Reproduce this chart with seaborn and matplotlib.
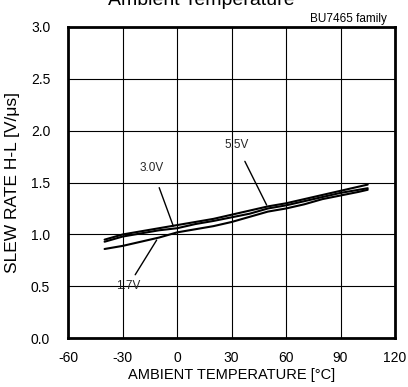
import matplotlib
matplotlib.use("Agg")
import matplotlib.pyplot as plt
import seaborn as sns
import pandas as pd

sns.set_theme(style="white")
plt.rcParams['font.family'] = ['Liberation Sans', 'DejaVu Sans']

temps = [-40, -30, -20, -10, 0, 10, 20, 30, 40, 50, 60, 70, 80, 90, 100, 105]
v55 = [0.95, 1.00, 1.03, 1.06, 1.09, 1.12, 1.15, 1.19, 1.23, 1.27, 1.30, 1.34, 1.38, 1.42, 1.46, 1.48]
v30 = [0.93, 0.98, 1.01, 1.04, 1.06, 1.10, 1.13, 1.165, 1.20, 1.25, 1.28, 1.32, 1.36, 1.40, 1.43, 1.445]
v17 = [0.86, 0.89, 0.93, 0.97, 1.02, 1.05, 1.08, 1.12, 1.17, 1.22, 1.25, 1.29, 1.34, 1.375, 1.41, 1.43]
series_names = ["5.5V", "3.0V", "1.7V"]

xticks = [-60, -30, 0, 30, 60, 90, 120]
yticks = [0.0, 0.5, 1.0, 1.5, 2.0, 2.5, 3.0]

df = pd.concat([
    pd.DataFrame({"temp": temps, "rate": v, "vdd": n})
    for v, n in zip([v55, v30, v17], series_names)
])

fig = plt.figure(figsize=(4.08, 3.87), dpi=100)
ax = fig.add_axes([0.1674, 0.1258, 0.8006, 0.8052])

sns.lineplot(data=df, x="temp", y="rate", units="vdd", estimator=None,
             color="black", linewidth=1.5, ax=ax, legend=False)

ax.set_xlim(-60, 120)
ax.set_ylim(0, 3)
ax.set_xticks(xticks)
ax.set_yticks(yticks)
ax.set_xticklabels([str(t) for t in xticks], fontsize=10)
ax.set_yticklabels([f"{t:.1f}" for t in yticks], fontsize=10)
ax.grid(True, color="black", linewidth=0.8)
ax.tick_params(axis="x", direction="in", length=4, color="black", width=1, pad=9, labelcolor="black")
ax.tick_params(axis="y", direction="in", length=4, color="black", width=1, pad=13, labelcolor="black")
for s in ax.spines.values():
    s.set_color("black")
    s.set_linewidth(2)

ax.set_xlabel("AMBIENT TEMPERATURE [\u00b0C]", fontsize=10.5, color="black", labelpad=2)
ax.set_ylabel("SLEW RATE H-L [V/\u03bcs]", fontsize=12.5, color="black", labelpad=8)

fig.text(0.493, 1 - 5/387, "Ambient Temperature", fontsize=14, ha="center", va="baseline", color="black")
fig.text(387/408, 1 - 22/387, "BU7465 family", fontsize=8.5, ha="right", va="baseline", color="black")

ax.annotate("5.5V", xy=(49.3, 1.283), xytext=(32.7, 1.865), fontsize=8.5, ha="center", va="center",
            arrowprops=dict(arrowstyle="-", color="black", lw=1, shrinkA=6, shrinkB=0))
ax.annotate("3.0V", xy=(-2.15, 1.081), xytext=(-13.9, 1.64), fontsize=8.5, ha="center", va="center",
            arrowprops=dict(arrowstyle="-", color="black", lw=1, shrinkA=8, shrinkB=0))
ax.annotate("1.7V", xy=(-11.3, 0.946), xytext=(-27.1, 0.5), fontsize=8.5, ha="center", va="center",
            arrowprops=dict(arrowstyle="-", color="black", lw=1, shrinkA=2, shrinkB=0))

fig.savefig("out.png", dpi=100)
